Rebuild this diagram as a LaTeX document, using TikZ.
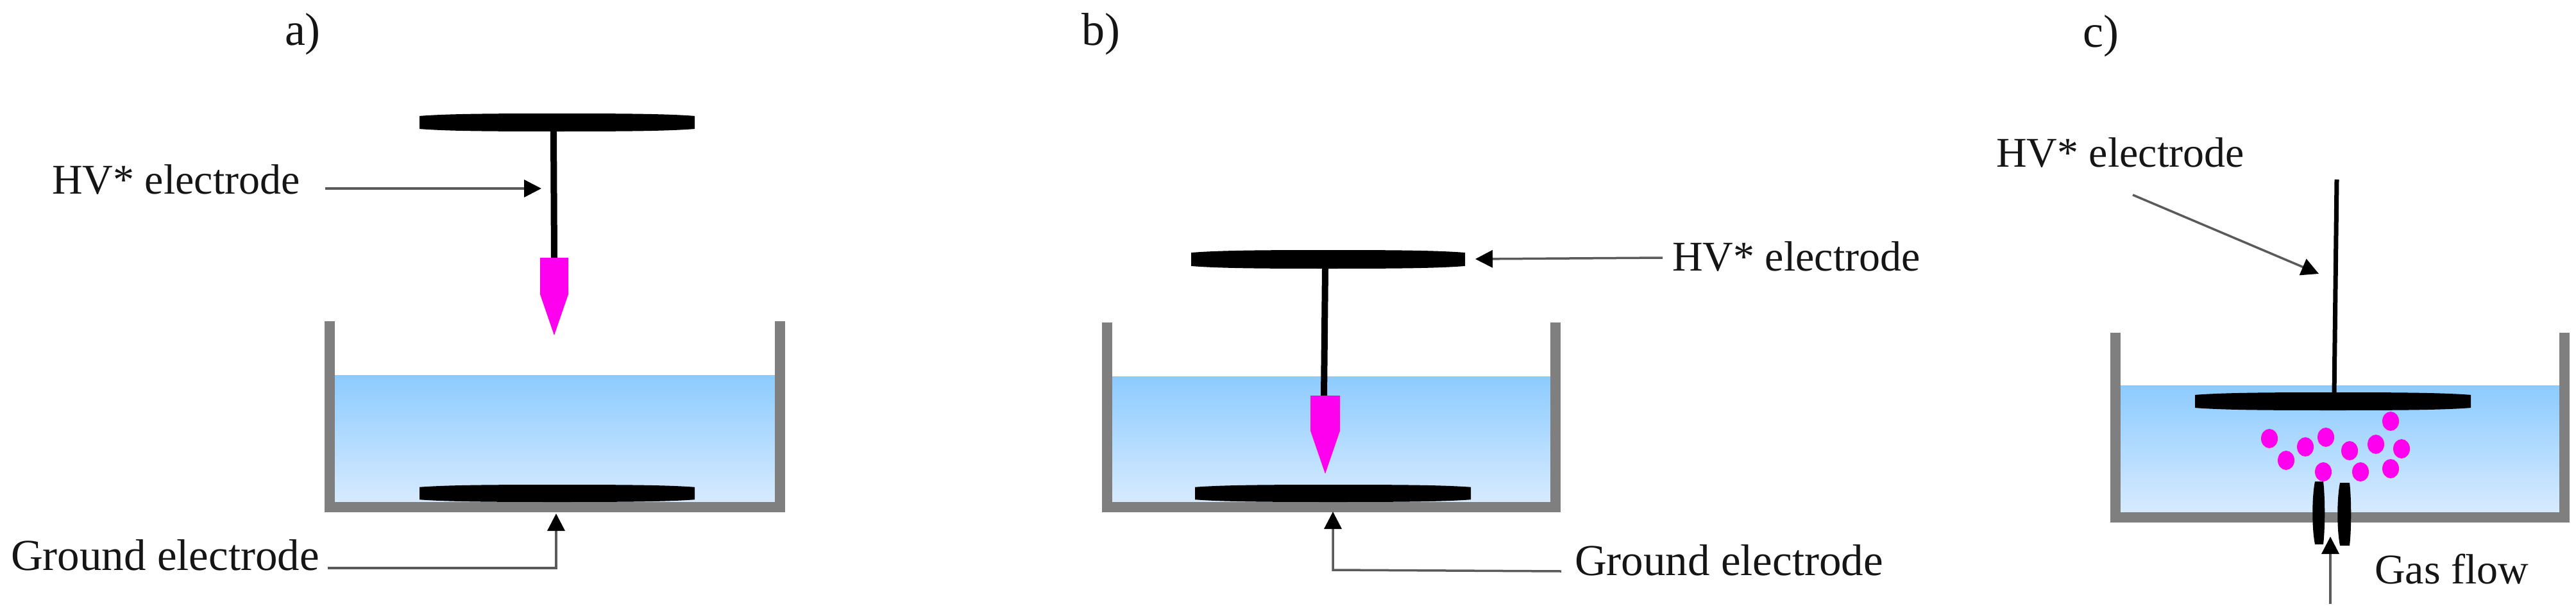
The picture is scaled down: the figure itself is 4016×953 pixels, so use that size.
\documentclass[tikz,border=0pt]{standalone}
\usepackage{fontspec}
\setmainfont{Liberation Serif}
\usetikzlibrary{arrows.meta}
\definecolor{wallgray}{HTML}{7F7F7F}
\definecolor{pinkfill}{HTML}{FF00EE}
\definecolor{watertop}{HTML}{8CCBFF}
\definecolor{waterbot}{HTML}{D8EBFF}
\definecolor{leadgray}{HTML}{5A5A5A}
\definecolor{inktext}{HTML}{151515}
\tikzset{
  lbl/.style={anchor=base west,inner sep=0pt,outer sep=0pt,text=inktext,font=\fontsize{66}{70}\selectfont},
  gndlbl/.style={lbl,font=\fontsize{69}{72}\selectfont},
  panel/.style={lbl,font=\fontsize{72}{76}\selectfont},
  wall/.style={draw=wallgray,line width=16pt,line join=miter,line cap=butt},
  water/.style={top color=watertop,bottom color=waterbot,draw=none},
  stem/.style={draw=black,line width=10pt,line cap=butt},
  pinktip/.style={fill=pinkfill,draw=none},
  blackfill/.style={fill=black,draw=none},
  dot/.style={fill=pinkfill,draw=none},
  lead/.style={draw=leadgray,line width=3.5pt,-{Triangle[length=27pt,width=27pt,color=black]}},
}
% electrode disc: x1,x2,ytop,ybottom
\newcommand{\discshape}[4]{%
  \fill[blackfill] (#1,{#3+0.14*(#4-#3)}) .. controls ({#1+0.10*(#2-#1)},{#3+0.02*(#4-#3)}) and ({#1+0.25*(#2-#1)},#3) .. ({0.5*(#1+#2)},#3)
    .. controls ({#1+0.75*(#2-#1)},#3) and ({#1+0.90*(#2-#1)},{#3+0.02*(#4-#3)}) .. (#2,{#3+0.14*(#4-#3)})
    -- (#2,{#3+0.86*(#4-#3)})
    .. controls ({#1+0.90*(#2-#1)},{#3+0.98*(#4-#3)}) and ({#1+0.75*(#2-#1)},#4) .. ({0.5*(#1+#2)},#4)
    .. controls ({#1+0.25*(#2-#1)},#4) and ({#1+0.10*(#2-#1)},{#3+0.98*(#4-#3)}) .. (#1,{#3+0.86*(#4-#3)}) -- cycle;}
% nozzle wall: x1,x2,ytop,ybottom
\newcommand{\nozzleshape}[4]{%
  \fill[blackfill] ({#1+3},#3) -- ({#2-2},#3)
    .. controls ({#2+1},{#3+25}) and ({#2+1},{#4-25}) .. ({#2-2},#4) -- ({#1+3},#4)
    .. controls ({#1-2},{#4-25}) and ({#1-2},{#3+25}) .. ({#1+3},#3) -- cycle;}
\begin{document}
\begin{tikzpicture}[x=1pt,y=-1pt]
\useasboundingbox (0,0) rectangle (4016,953);

% ---------- panel a
\node[panel] (pa) at (444,70) {a)};
\fill[water] (514,585) rectangle (1216,787);
\draw[wall] (514,501) -- (514,791) -- (1216,791) -- (1216,501);
\discshape{654}{1083}{177}{205}
\discshape{654}{1083}{756}{783}
\draw[stem] (863,204) -- (864,403);
\fill[pinktip] (842,402) -- (886,402) -- (886,459) -- (864,523) -- (842,459) -- cycle;
\node[lbl] (ahv) at (81,302) {HV* electrode};
\node[gndlbl] (agnd) at (17,889) {Ground electrode};
\coordinate (ahvs) at (507,294);
\coordinate (ahve) at (844,294);
\coordinate (agnds) at (511,886);
\coordinate (agndc) at (867,886);
\coordinate (agnde) at (867,801);
\draw[lead] (ahvs) -- (ahve);
\draw[lead] (agnds) -- (agndc) -- (agnde);

% ---------- panel b
\node[panel] (pb) at (1686,70) {b)};
\fill[water] (1726,587) rectangle (2425,787);
\draw[wall] (1726,503) -- (1726,791) -- (2425,791) -- (2425,503);
\discshape{1857}{2284}{390}{419}
\discshape{1863}{2293}{756}{783}
\draw[stem] (2066,418) -- (2064,618);
\fill[pinktip] (2043,617) -- (2089,617) -- (2089,672) -- (2066,739) -- (2043,672) -- cycle;
\node[lbl] (bhv) at (2607,422) {HV* electrode};
\node[gndlbl] (bgnd) at (2455,897) {Ground electrode};
\coordinate (bhvs) at (2592,402);
\coordinate (bhve) at (2300,404);
\coordinate (bgnds) at (2434,891);
\coordinate (bgndc) at (2078,889);
\coordinate (bgnde) at (2078,798);
\draw[lead] (bhvs) -- (bhve);
\draw[lead] (bgnds) -- (bgndc) -- (bgnde);

% ---------- panel c
\node[panel] (pc) at (3247,73) {c)};
\fill[water] (3298,601) rectangle (3998,802);
\draw[wall] (3298,519) -- (3298,807) -- (3998,807) -- (3998,519);
\draw[stem,line width=7pt] (3643,280) -- (3639,615);
\discshape{3422}{3852}{612}{640}
\foreach \px/\py in {3538/684,3564/718,3594/697,3626/682,3622/736,3663/703,3680/736,3704/693,3727/657,3744/700,3727/731}
  \fill[dot] (\px,\py) ellipse [x radius=13,y radius=15];
\nozzleshape{3606}{3624}{751}{849}
\nozzleshape{3645}{3665}{753}{851}
\node[lbl] (chv) at (3112,260) {HV* electrode};
\node[lbl] (cgas) at (3702,910) {Gas flow};
\coordinate (chvs) at (3325,304);
\coordinate (chve) at (3615,427);
\coordinate (cgass) at (3633,942);
\coordinate (cgase) at (3633,837);
\draw[lead] (chvs) -- (chve);
\draw[lead] (cgass) -- (cgase);
\end{tikzpicture}
\end{document}
